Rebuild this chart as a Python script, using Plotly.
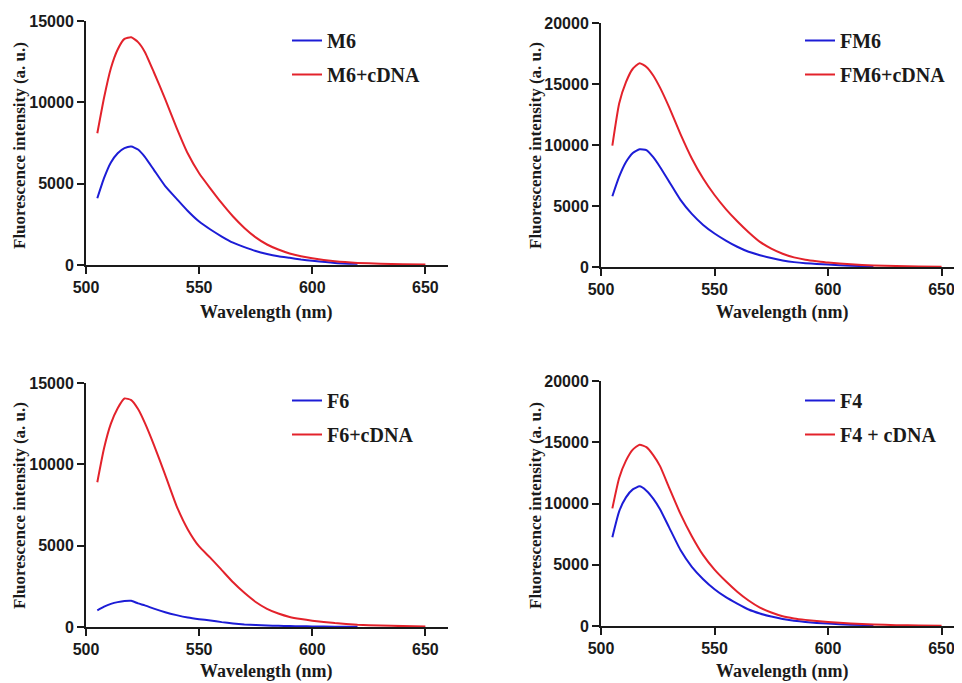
import plotly.graph_objects as go

# ---------------- data ----------------
WL = [505, 508, 511, 514, 517, 520, 523, 526, 530, 535, 540, 545, 550, 555,
      560, 565, 570, 575, 580, 585, 590, 595, 600, 610, 620, 630, 640, 650]
WL_BLUE = [505, 508, 511, 514, 517, 520, 523, 526, 530, 535, 540, 545, 550, 555,
           560, 565, 570, 575, 580, 585, 590, 595, 600, 610, 620]

M6 = [4100, 5350, 6300, 6870, 7180, 7280, 7100, 6650, 5850, 4850, 4080, 3320, 2670, 2180,
      1750, 1370, 1100, 860, 680, 540, 440, 340, 260, 130, 70]
M6_CDNA = [8100, 10300, 12100, 13250, 13900, 14000, 13700, 13100, 11850, 10200, 8450, 6850,
           5640, 4700, 3800, 2980, 2280, 1700, 1260, 950, 710, 540, 410, 230, 130, 80, 50, 30]

FM6 = [5800, 7400, 8600, 9350, 9650, 9580, 9000, 8200, 7000, 5500, 4350, 3450, 2750, 2170,
       1660, 1250, 970, 730, 540, 400, 310, 250, 200, 100, 50]
FM6_CDNA = [9950, 13400, 15150, 16250, 16700, 16400, 15700, 14700, 13100, 10900, 8900, 7250,
            5900, 4750, 3750, 2850, 2060, 1510, 1090, 790, 600, 470, 360, 220, 130, 80, 50, 30]

F6 = [1020, 1250, 1420, 1530, 1600, 1610, 1450, 1330, 1130, 910, 730, 580, 480, 400,
      300, 220, 160, 120, 90, 70, 55, 45, 35, 20, 10]
F6_CDNA = [8900, 11000, 12500, 13450, 14050, 13950, 13400, 12550, 11200, 9350, 7450, 6000,
           4950, 4250, 3500, 2750, 2100, 1540, 1120, 830, 620, 490, 390, 240, 140, 90, 55, 30]

F4 = [7250, 9360, 10500, 11150, 11400, 11050, 10400, 9530, 8050, 6200, 4830, 3820, 3000, 2350,
      1830, 1350, 1020, 770, 570, 430, 330, 250, 195, 110, 60]
F4_CDNA = [9600, 12080, 13500, 14400, 14800, 14600, 13950, 13050, 11300, 9150, 7330, 5780,
           4600, 3650, 2800, 2080, 1500, 1100, 800, 620, 500, 410, 330, 200, 120, 70, 45, 25]

PANELS = [
    ("M6", "M6+cDNA", M6, M6_CDNA, 15000),
    ("FM6", "FM6+cDNA", FM6, FM6_CDNA, 20000),
    ("F6", "F6+cDNA", F6, F6_CDNA, 15000),
    ("F4", "F4 + cDNA", F4, F4_CDNA, 20000),
]
X_TICKS = [500, 550, 600, 650]

# ---------------- layout geometry (screen pixels) ----------------
W, H = 962, 683
OFF = 8  # page body margin: figure is drawn 8px right/down of the window corner
# (left, right, top, bottom) of each plot area in screen pixels
BOXES = [(86, 448, 21, 265), (601, 962, 23, 267), (86, 448, 383, 627), (601, 962, 381, 626)]
XMAX = [660, 659, 660, 659]
LEG_POS = [(287, 21), (800, 21), (287, 381), (800, 381)]
YT_POS = [(19, 146), (535, 146), (19, 506), (535, 506)]
XT_POS = [(266, 312), (782, 313), (266, 671), (782, 671)]


def fx(px):
    return (px - OFF) / W


def fy(py):
    return 1 - (py - OFF) / H


BLUE = "#1c1cd6"
RED = "#e3222b"
AX = "#1a1a1a"
SANS = "Liberation Sans, Arial, sans-serif"
SERIF = "Liberation Serif, Times New Roman, serif"

fig = go.Figure()
layout = dict(width=W, height=H, margin=dict(l=0, r=0, t=0, b=0, pad=0, autoexpand=False),
              paper_bgcolor="white", plot_bgcolor="white", showlegend=True)
annotations = []

for i, (nb, nr, yb, yr, ymax) in enumerate(PANELS):
    k = i + 1
    xa = "x" if k == 1 else f"x{k}"
    ya = "y" if k == 1 else f"y{k}"
    leg = "legend" if k == 1 else f"legend{k}"
    fig.add_trace(go.Scatter(x=WL_BLUE, y=yb, name=nb, mode="lines",
                             line=dict(color=BLUE, width=2, shape="spline", smoothing=0.5),
                             xaxis=xa, yaxis=ya, legend=leg, legendgroup=f"b{k}"))
    fig.add_trace(go.Scatter(x=WL, y=yr, name=nr, mode="lines",
                             line=dict(color=RED, width=2, shape="spline", smoothing=0.5),
                             xaxis=xa, yaxis=ya, legend=leg, legendgroup=f"r{k}"))
    l, r, t, b = BOXES[i]
    common = dict(showline=True, linecolor=AX, linewidth=2, ticks="outside", ticklen=7,
                  tickwidth=2, tickcolor=AX, showgrid=False, zeroline=False, automargin=False,
                  tickfont=dict(family=SANS, size=16, color=AX, weight="bold"))
    layout["xaxis" if k == 1 else f"xaxis{k}"] = dict(
        domain=[fx(l), min(1.0, fx(r))], range=[500, XMAX[i]], tickvals=X_TICKS,
        anchor=ya, **common)
    layout["yaxis" if k == 1 else f"yaxis{k}"] = dict(
        domain=[fy(b), fy(t)], range=[0, ymax], dtick=5000, tickformat="d",
        anchor=xa, **common)
    lx, ly = LEG_POS[i]
    layout[leg] = dict(x=fx(lx), y=fy(ly), xanchor="left", yanchor="top",
                       bgcolor="rgba(0,0,0,0)", traceorder="grouped", tracegroupgap=5,
                       itemwidth=30,
                       font=dict(family=SERIF, size=20, color=AX, weight="bold"))
    tx, ty = YT_POS[i]
    annotations.append(dict(text="Fluorescence intensity (a. u.)", x=fx(tx), y=fy(ty),
                            xref="paper", yref="paper", showarrow=False, textangle=-90,
                            xanchor="center", yanchor="middle",
                            font=dict(family=SERIF, size=17, color=AX, weight="bold")))
    tx, ty = XT_POS[i]
    annotations.append(dict(text="Wavelength (nm)", x=fx(tx), y=fy(ty),
                            xref="paper", yref="paper", showarrow=False,
                            xanchor="center", yanchor="middle",
                            font=dict(family=SERIF, size=18, color=AX, weight="bold")))

layout["annotations"] = annotations
fig.update_layout(**layout)
fig.write_html("out.html")
